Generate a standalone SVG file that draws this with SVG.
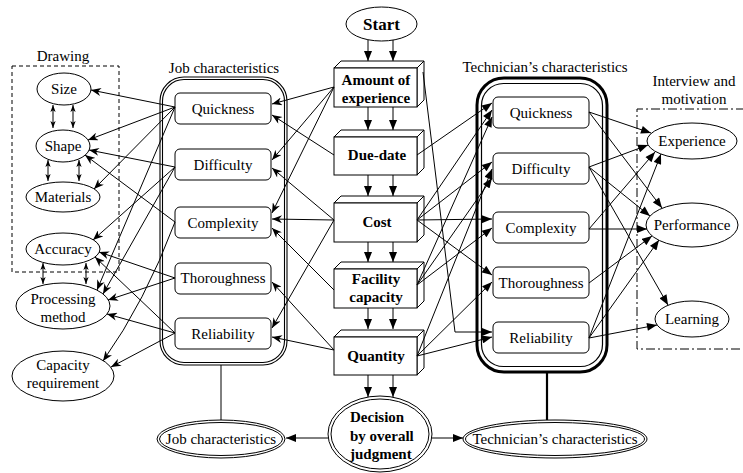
<svg xmlns="http://www.w3.org/2000/svg" width="743" height="473" viewBox="0 0 743 473">
<style>
text { font-family: "Liberation Serif", "Times New Roman", serif; font-size: 15px; fill: #000; text-anchor: middle; }
.b { font-weight: bold; }
.s { text-anchor: start; }
.box { fill: #fff; stroke: #000; stroke-width: 1; }
.face { fill: #fff; stroke: #000; stroke-width: 1; stroke-linejoin: round; }
.ell { fill: #fff; stroke: #000; stroke-width: 1; }
.frame { fill: none; stroke: #000; }
.ln { fill: none; stroke: #000; stroke-width: 1; }
.a { marker-end: url(#ah); }
.t { marker-end: url(#tri); }
.d { marker-start: url(#dh); marker-end: url(#dh); }
</style>
<defs>
<marker id="ah" viewBox="0 0 10 8" refX="10" refY="4" markerWidth="11" markerHeight="8" markerUnits="userSpaceOnUse" orient="auto"><path d="M0,0 L10,4 L0,8 L3,4 z"/></marker>
<marker id="tri" viewBox="0 0 10 8" refX="10" refY="4" markerWidth="11" markerHeight="8" markerUnits="userSpaceOnUse" orient="auto"><path d="M0,0 L10,4 L0,8 z"/></marker>
<marker id="dh" viewBox="0 0 8 6" refX="8" refY="3" markerWidth="7" markerHeight="6" markerUnits="userSpaceOnUse" orient="auto-start-reverse"><path d="M0,0 L8,3 L0,6 L2,3 z"/></marker>
</defs>

<!-- group frames and captions -->
<g id="drawing-group">
  <rect x="12" y="66" width="107" height="206" class="frame" stroke-width="1" stroke-dasharray="4 3"/>
  <text x="63" y="61">Drawing</text>
</g>
<g id="interview-group">
  <path d="M745,109 H637 V349 H745" class="frame" stroke-width="1" stroke-dasharray="9 3 2 3"/>
  <text x="694" y="86">Interview and</text>
  <text x="694" y="104">motivation</text>
</g>
<g id="job-group">
  <text x="224" y="73">Job characteristics</text>
  <rect x="160" y="77" width="127" height="288" rx="24" class="frame" stroke-width="1.1"/>
  <rect x="162.5" y="79.5" width="122" height="283" rx="21.5" class="frame" stroke-width="1.1"/>
</g>
<g id="tech-group">
  <text x="545" y="72">Technician’s characteristics</text>
  <rect x="477" y="78" width="130" height="294" rx="27" class="frame" stroke-width="3"/>
  <rect x="481.5" y="83.5" width="121" height="283" rx="22" class="frame" stroke-width="1.2"/>
</g>

<!-- drawing attributes -->
<g id="size"><ellipse cx="64" cy="89" rx="27" ry="16" class="ell"/><text x="64" y="94">Size</text></g>
<g id="shape"><ellipse cx="63" cy="146" rx="27" ry="16" class="ell"/><text x="63" y="151">Shape</text></g>
<g id="materials"><ellipse cx="63" cy="197" rx="37" ry="15" class="ell"/><text x="63" y="202">Materials</text></g>
<g id="accuracy"><ellipse cx="63" cy="249" rx="37" ry="16" class="ell"/><text x="63" y="254">Accuracy</text></g>
<g id="processing-method"><ellipse cx="63" cy="306" rx="47" ry="23" class="ell"/><text x="63" y="304">Processing</text><text x="63" y="322">method</text></g>
<g id="capacity-requirement"><ellipse cx="63" cy="376" rx="51" ry="25" class="ell"/><text x="63" y="370">Capacity</text><text x="63" y="388">requirement</text></g>

<!-- job characteristic items -->
<g id="job-quickness"><rect x="175" y="93" width="96" height="31" rx="5" class="box"/><text x="223" y="114">Quickness</text></g>
<g id="job-difficulty"><rect x="175" y="149" width="96" height="31" rx="5" class="box"/><text x="223" y="170">Difficulty</text></g>
<g id="job-complexity"><rect x="175" y="207" width="96" height="31" rx="5" class="box"/><text x="223" y="228">Complexity</text></g>
<g id="job-thoroughness"><rect x="175" y="263" width="96" height="31" rx="5" class="box"/><text x="223" y="283">Thoroughness</text></g>
<g id="job-reliability"><rect x="175" y="318" width="96" height="31" rx="5" class="box"/><text x="223" y="339">Reliability</text></g>

<!-- technician characteristic items -->
<g id="tech-quickness"><rect x="493" y="97" width="96" height="31" rx="5" class="box"/><text x="541" y="118">Quickness</text></g>
<g id="tech-difficulty"><rect x="493" y="153" width="96" height="31" rx="5" class="box"/><text x="541" y="174">Difficulty</text></g>
<g id="tech-complexity"><rect x="493" y="212" width="96" height="31" rx="5" class="box"/><text x="541" y="233">Complexity</text></g>
<g id="tech-thoroughness"><rect x="493" y="267" width="96" height="31" rx="5" class="box"/><text x="541" y="288">Thoroughness</text></g>
<g id="tech-reliability"><rect x="493" y="322" width="96" height="31" rx="5" class="box"/><text x="541" y="343">Reliability</text></g>

<!-- interview items -->
<g id="experience"><ellipse cx="692" cy="141" rx="45" ry="18" class="ell"/><text x="692" y="146">Experience</text></g>
<g id="performance"><ellipse cx="692" cy="225" rx="46" ry="22" class="ell"/><text x="692" y="230">Performance</text></g>
<g id="learning"><ellipse cx="692" cy="319" rx="37" ry="18" class="ell"/><text x="692" y="324">Learning</text></g>

<!-- central decision flow -->
<g id="start"><ellipse cx="381.5" cy="24" rx="35.5" ry="17" class="ell"/><text x="381.5" y="30" class="b" style="font-size:17px">Start</text></g>
<g id="amount-of-experience">
  <polygon points="334,68 341,61 424,61 417,68" class="face"/>
  <polygon points="417,68 424,61 424,100 417,107" class="face"/>
  <rect x="334" y="68" width="83" height="39" class="box"/>
  <text x="376" y="85" class="b">Amount of</text><text x="376" y="103" class="b">experience</text>
</g>
<g id="due-date">
  <polygon points="334,137 341,130 424,130 417,137" class="face"/>
  <polygon points="417,137 424,130 424,168 417,175" class="face"/>
  <rect x="334" y="137" width="83" height="38" class="box"/>
  <text x="377" y="160" class="b">Due-date</text>
</g>
<g id="cost">
  <polygon points="334,203 341,196 424,196 417,203" class="face"/>
  <polygon points="417,203 424,196 424,235 417,242" class="face"/>
  <rect x="334" y="203" width="83" height="39" class="box"/>
  <text x="377" y="227" class="b">Cost</text>
</g>
<g id="facility-capacity">
  <polygon points="334,269 341,262 424,262 417,269" class="face"/>
  <polygon points="417,269 424,262 424,301 417,308" class="face"/>
  <rect x="334" y="269" width="83" height="39" class="box"/>
  <text x="376" y="284" class="b">Facility</text><text x="376" y="302" class="b">capacity</text>
</g>
<g id="quantity">
  <polygon points="334,337 341,330 424,330 417,337" class="face"/>
  <polygon points="417,337 424,330 424,368 417,375" class="face"/>
  <rect x="334" y="337" width="83" height="38" class="box"/>
  <text x="376" y="361" class="b">Quantity</text>
</g>
<g id="decision">
  <ellipse cx="380" cy="434" rx="52" ry="38" class="ell" stroke-width="1.2"/>
  <ellipse cx="380" cy="434" rx="49" ry="35" class="ell" stroke-width="1.2"/>
  <text x="350" y="422" class="b s">Decision</text>
  <text x="350" y="441" class="b s">by overall</text>
  <text x="350" y="459" class="b s">judgment</text>
</g>
<g id="job-summary">
  <ellipse cx="221" cy="439" rx="64" ry="19" class="ell" stroke-width="1.2"/>
  <ellipse cx="221" cy="439" rx="61.5" ry="16.5" class="ell" stroke-width="1.2"/>
  <text x="221" y="444">Job characteristics</text>
</g>
<g id="tech-summary">
  <ellipse cx="555" cy="439" rx="92" ry="19" class="ell" stroke-width="1.2"/>
  <ellipse cx="555" cy="439" rx="89.5" ry="16.5" class="ell" stroke-width="1.2"/>
  <text x="555" y="444">Technician’s characteristics</text>
</g>

<g id="connectors" class="ln">
  <!-- frames to summaries -->
  <path d="M221,365 V420"/>
  <path d="M547,372 V420" stroke-width="2.2"/>
  <!-- main flow -->
  <path class="t" d="M368,40 V61"/><path class="t" d="M393,40 V61"/>
  <path class="t" d="M368,107 V130"/><path class="t" d="M393,107 V130"/>
  <path class="t" d="M368,175 V196"/><path class="t" d="M393,175 V196"/>
  <path class="t" d="M368,242 V262"/><path class="t" d="M393,242 V262"/>
  <path class="t" d="M368,308 V329"/><path class="t" d="M393,308 V329"/>
  <path class="t" d="M368,375 V397"/><path class="t" d="M393,375 V397"/>
  <path class="t" d="M328,438 H286"/>
  <path class="t" d="M432,438 H463"/>
  <!-- drawing internal links -->
  <path class="d" d="M53,105 V128"/><path class="d" d="M73,105 V128"/>
  <path class="d" d="M48,160 V181"/><path class="d" d="M79,160 V181"/>
  <path class="d" d="M43,263 V284"/><path class="d" d="M86,263 V284"/>
  <!-- job items to drawing attributes -->
  <path class="a" d="M175,107 L91,90"/>
  <path class="a" d="M175,107 L88,140"/>
  <path class="a" d="M175,107 L94,189"/>
  <path class="a" d="M175,107 L97,290"/>
  <path class="a" d="M175,167 L89,150"/>
  <path class="a" d="M175,167 L93,240"/>
  <path class="a" d="M175,167 L103,294"/>
  <path class="a" d="M175,222 L85,155"/>
  <path class="a" d="M175,222 Q145,302 103,361"/>
  <path class="a" d="M175,278 L99,252"/>
  <path class="a" d="M175,278 L108,300"/>
  <path class="a" d="M175,333 L95,257"/>
  <path class="a" d="M175,333 L107,314"/>
  <path class="a" d="M175,333 L111,367"/>
  <!-- decision factors to job items -->
  <path class="a" d="M334,87 L272,104"/>
  <path class="a" d="M334,87 L272,160"/>
  <path class="a" d="M334,87 L272,213"/>
  <path class="a" d="M334,155 L272,115"/>
  <path class="a" d="M334,220 L272,168"/>
  <path class="a" d="M334,220 L272,219"/>
  <path class="a" d="M334,220 L272,328"/>
  <path class="a" d="M334,290 L272,228"/>
  <path class="a" d="M334,350 L272,282"/>
  <path class="a" d="M334,350 L272,337"/>
  <!-- decision factors to technician items -->
  <path class="t" d="M417,155 L492,103"/>
  <path class="t" d="M417,220 L492,110"/>
  <path class="t" d="M417,220 L492,162"/>
  <path class="t" d="M417,220 L492,219"/>
  <path class="t" d="M417,220 L492,275"/>
  <path class="t" d="M417,285 L492,117"/>
  <path class="t" d="M417,285 L492,178"/>
  <path class="t" d="M417,285 L492,228"/>
  <path class="t" d="M417,356 L492,169"/>
  <path class="t" d="M417,356 L492,282"/>
  <path class="t" d="M417,356 L492,337"/>
  <path class="t" d="M423,72 L455,332 L492,332"/>
  <!-- technician items to interview results -->
  <path class="t" d="M589,112 L651,133"/>
  <path class="t" d="M589,112 L662,208"/>
  <path class="t" d="M589,167 L648,145"/>
  <path class="t" d="M589,167 L650,216"/>
  <path class="t" d="M589,167 L668,305"/>
  <path class="t" d="M589,229 L655,152"/>
  <path class="t" d="M589,229 L647,229"/>
  <path class="t" d="M589,283 L652,236"/>
  <path class="t" d="M589,338 L661,154"/>
  <path class="t" d="M589,338 L659,240"/>
  <path class="t" d="M589,338 L657,325"/>
</g>
</svg>
